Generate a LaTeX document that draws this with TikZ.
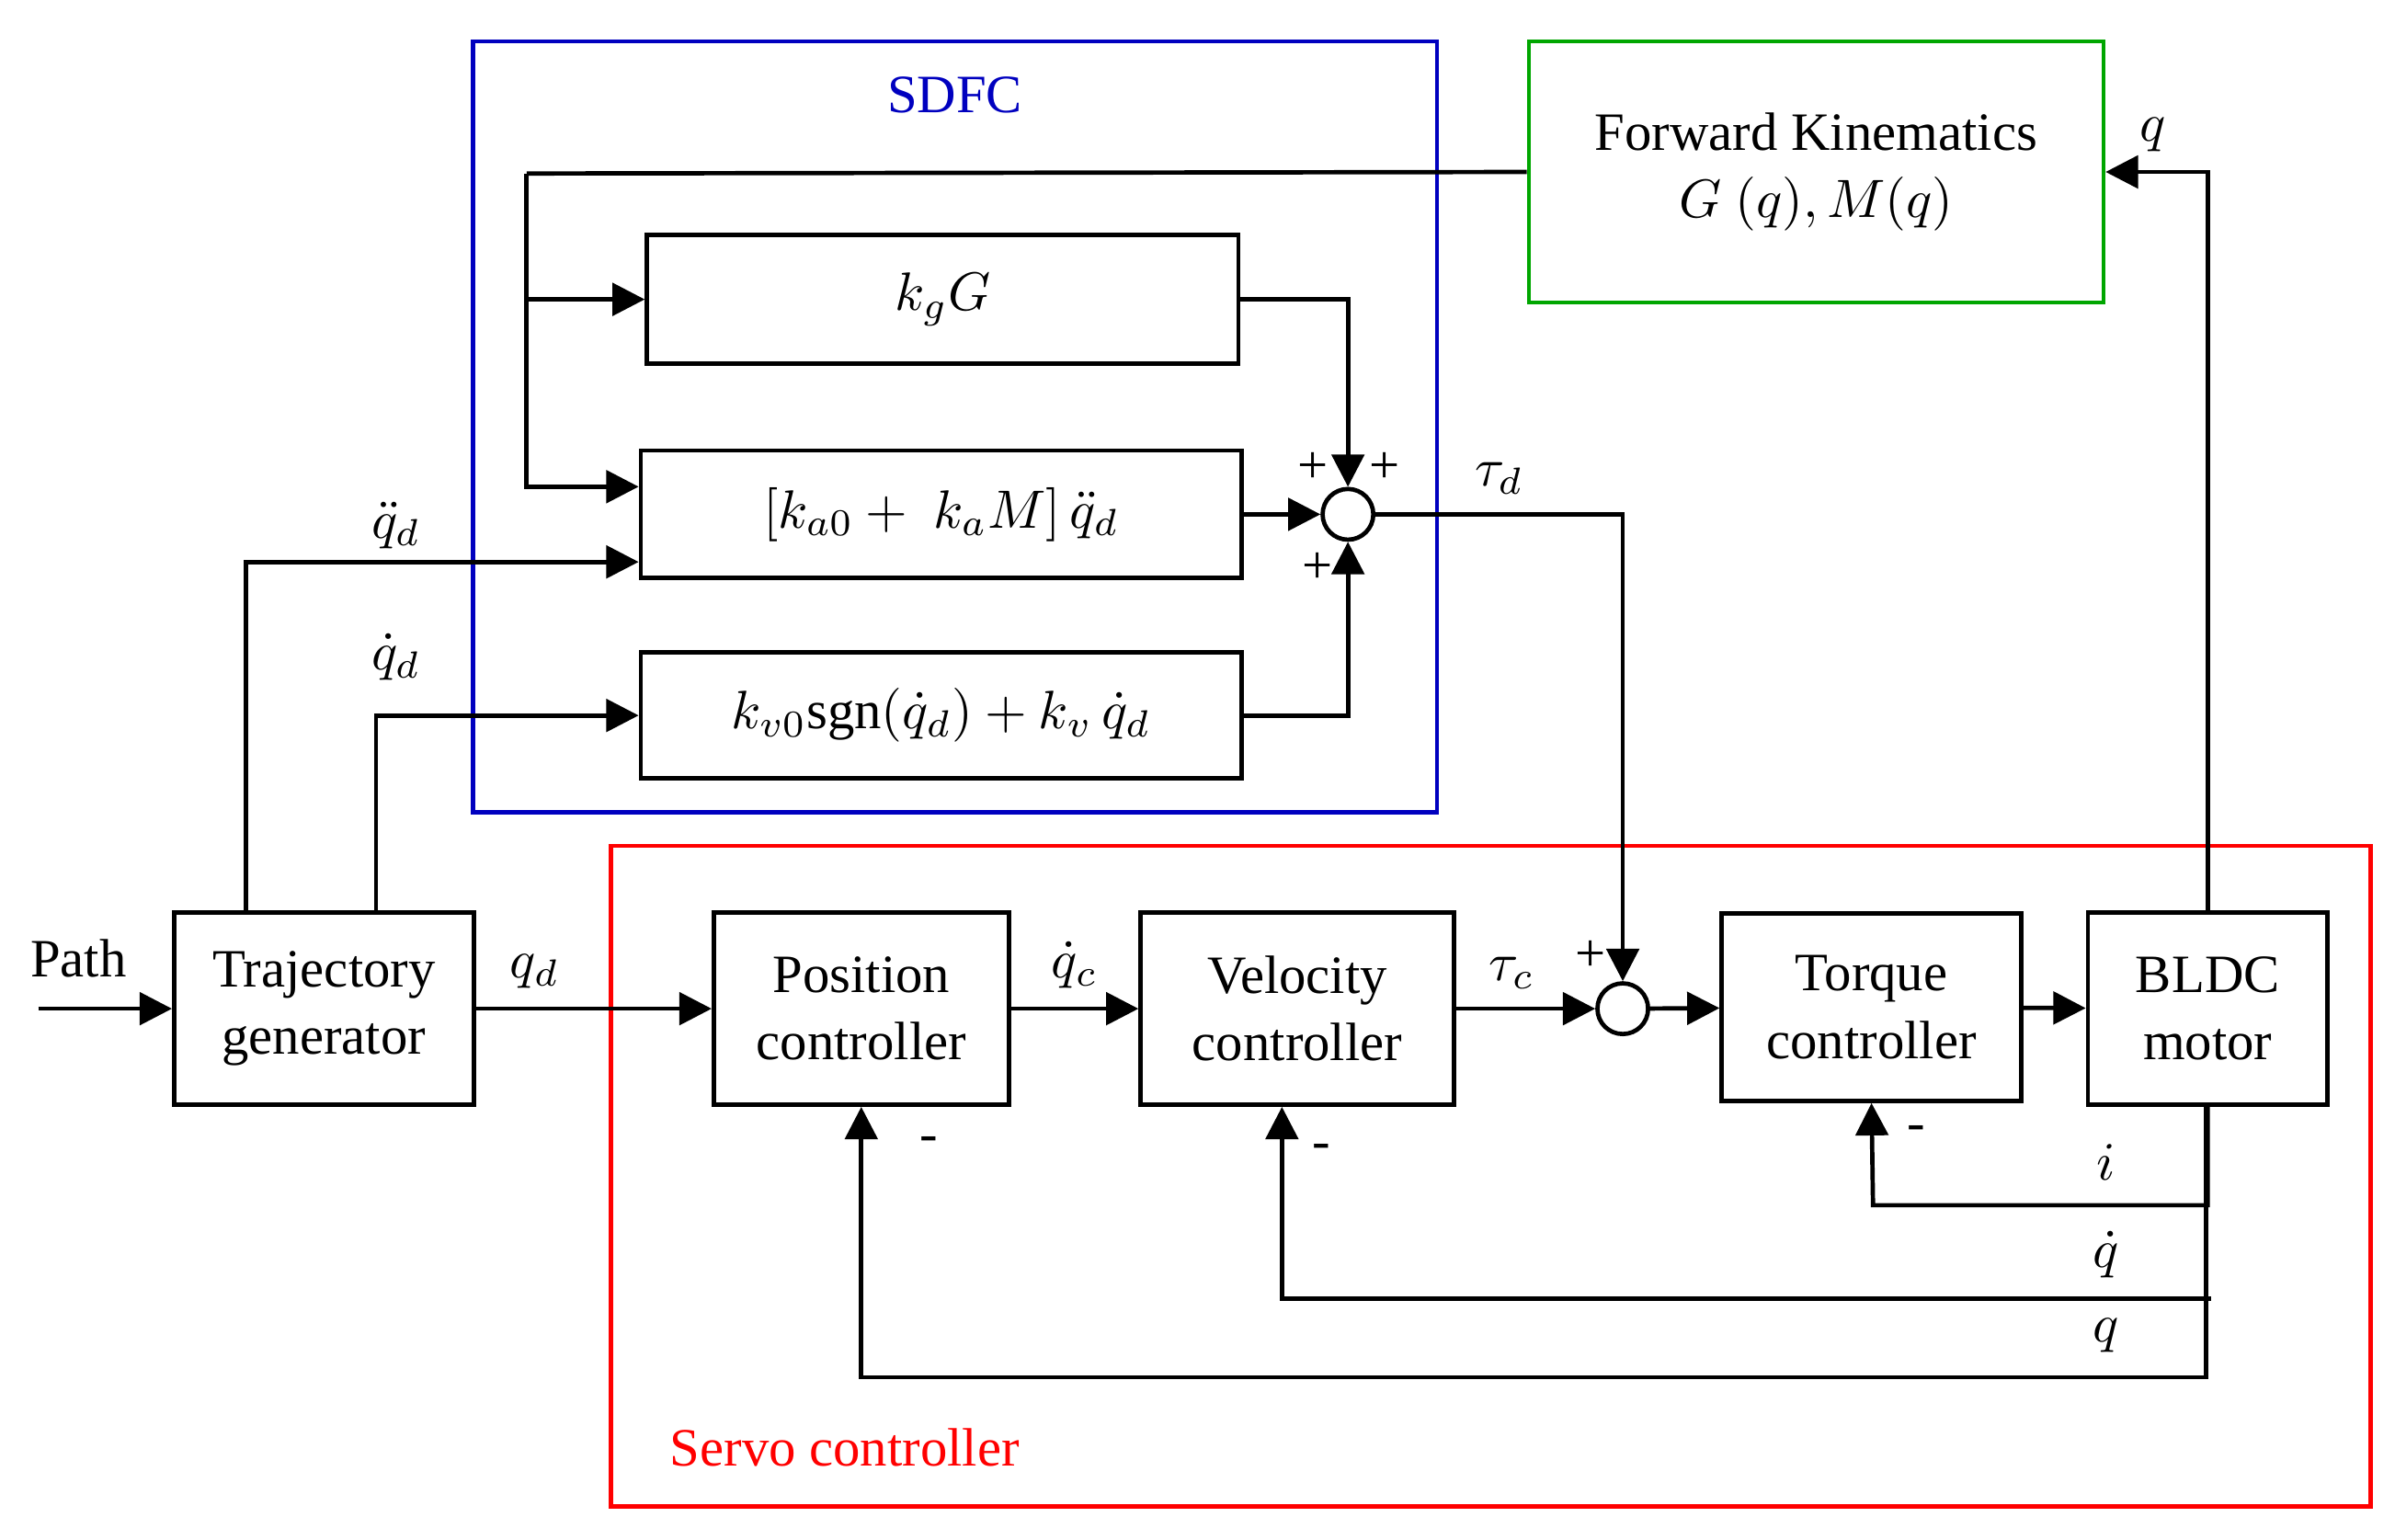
\documentclass[tikz,border=0pt]{standalone}
\usepackage{fontspec}
\setmainfont{Liberation Serif}
\usetikzlibrary{arrows.meta, positioning, calc}
\tikzset{
  block/.style={rectangle, draw=black, thick, align=center, inner sep=1pt},
  sumnode/.style={circle, draw=black, thick, minimum size=0.33cm, inner sep=0pt},
  arrow/.style={-{Triangle[length=6pt,width=6pt]}, thick},
  line/.style={thick},
  sign/.style={font=\fontsize{10}{12}\selectfont, inner sep=1pt},
}
\begin{document}
\begin{tikzpicture}[x=0.01cm, y=-0.01cm, font=\fontsize{10}{12.5}\selectfont]
  \useasboundingbox (0,0) rectangle (1560,1003);

  % frames
  \draw[blue!75!black, thick] (308,27) rectangle (936,529);
  \node[blue!75!black] (sdfc) at (622,62) {SDFC};
  \draw[red, thick] (398,551) rectangle (1544,981);
  \node[red, anchor=west] (servo) at (424,943) {Servo controller};

  % SDFC blocks
  \node[block, draw=green!65!black, minimum width=3.74cm, minimum height=1.70cm] (fk) at (1183,112)
       {Forward Kinematics\\$G\ (q),M(q)$};
  \node[block, minimum width=3.85cm, minimum height=0.84cm] (kg) at (614,195) {$k_gG$};
  \node[block, minimum width=3.91cm, minimum height=0.83cm] (ka) at (613,335) {$[k_{a0}+\ k_aM]\,\ddot{q}_d$};
  \node[block, minimum width=3.91cm, minimum height=0.82cm] (kv) at (613,466) {$k_{v0}\mathrm{sgn}(\dot{q}_d)+k_v\,\dot{q}_d$};
  \node[sumnode] (s1) at (878,335) {};

  % servo blocks
  \node[block, minimum width=1.95cm, minimum height=1.25cm] (traj) at (211,657) {Trajectory\\generator};
  \node[block, minimum width=1.92cm, minimum height=1.25cm] (pos) at (561,657) {Position\\controller};
  \node[block, minimum width=2.04cm, minimum height=1.25cm] (vel) at (845,657) {Velocity\\controller};
  \node[sumnode] (s2) at (1057,657) {};
  \node[block, minimum width=1.95cm, minimum height=1.22cm] (tor) at (1219,656) {Torque\\controller};
  \node[block, minimum width=1.56cm, minimum height=1.25cm] (bldc) at (1438,657) {BLDC\\motor};

  \coordinate (pin) at (25,657);
  \coordinate (fkl) at (343,113);

  % forward path
  \draw[arrow] (pin) -- node[above, pos=0.3, yshift=2pt]{Path} (traj);
  \draw[arrow] (traj) -- node[above, pos=0.25]{$q_d$} (pos);
  \draw[arrow] (pos) -- node[above]{$\dot{q}_c$} (vel);
  \draw[arrow] (vel) -- node[above, pos=0.4]{$\tau_c$} (s2);
  \draw[arrow] (s2) -- (tor);
  \draw[arrow] (tor) -- (bldc);
  \draw[arrow] (bldc.north) |- node[above right, pos=0.93]{$q$} (fk.east);

  % SDFC signals
  \draw[line] (fk.west) -- (fkl);
  \draw[arrow] (fkl) |- ($(ka.west)+(0,-18)$);
  \draw[arrow] (343,195) -- (kg.west);
  \draw[arrow] ($(traj.north)+(-51,0)$) |- ($(ka.west)+(0,31)$);
  \draw[arrow] ($(traj.north)+(34,0)$) |- (kv.west);
  \node (qdd) at (258,342) {$\ddot{q}_d$};
  \node (qdt) at (258,428) {$\dot{q}_d$};
  \draw[arrow] (kg.east) -| (s1.north);
  \draw[arrow] (ka.east) -- (s1.west);
  \draw[arrow] (kv.east) -| (s1.south);
  \draw[arrow] (s1.east) -| node[above, pos=0.25]{$\tau_d$} (s2.north);
  \node[sign] at (855,305) {+};
  \node[sign] at (902,305) {+};
  \node[sign] at (858,370) {+};
  \node[sign] at (1036,623) {+};

  % feedback
  \draw[arrow] (bldc.south) |- (1220,785) -- (tor.south);
  \draw[arrow] (1440,846) -- (835,846) -- (vel.south -| 835,0);
  \draw[arrow] (1437,720) |- (561,897) -- (pos.south);
  \node at (1372,757) {$i$};
  \node at (1372,817) {$\dot{q}$};
  \node at (1372,870) {$q$};
  \node[sign] at (1248,738) {-};
  \node[sign] at (861,750) {-};
  \node[sign] at (605,745) {-};
\end{tikzpicture}
\end{document}
